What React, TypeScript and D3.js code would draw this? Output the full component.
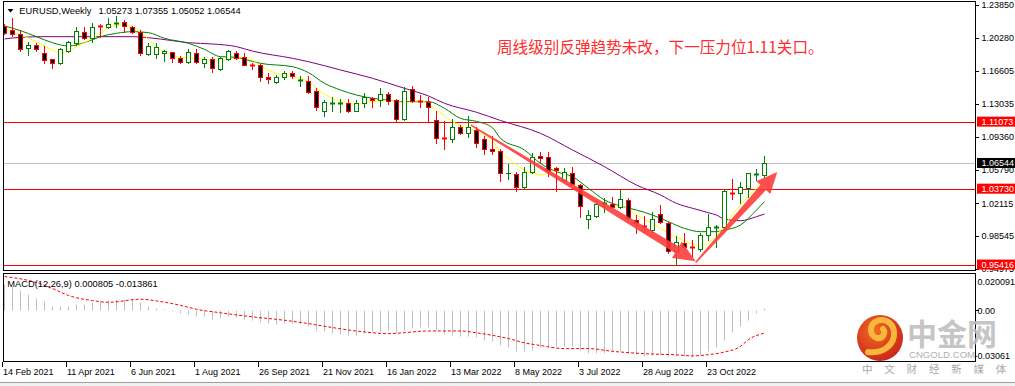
import React from 'react';
import * as d3 from 'd3';

// EURUSD weekly, 14 Feb 2021 .. 11 Dec 2022 (one entry per week)
const opens = [
  1.2155, 1.2111, 1.2064, 1.1910, 1.1943, 1.1863, 1.1790, 1.1746, 1.1885, 1.1965,
  1.2089, 1.2027, 1.2159, 1.2140, 1.2177, 1.2195, 1.2148, 1.2093, 1.1845, 1.1848,
  1.1863, 1.1866, 1.1804, 1.1764, 1.1856, 1.1746, 1.1790, 1.1680, 1.1790, 1.1863,
  1.1812, 1.1728, 1.1728, 1.1600, 1.1538, 1.1593, 1.1644, 1.1552, 1.1556, 1.1447,
  1.1224, 1.1300, 1.1300, 1.1315, 1.1227, 1.1308, 1.1363, 1.1344, 1.1410, 1.1344,
  1.1132, 1.1461, 1.1333, 1.1326, 1.1125, 1.0924, 1.0913, 1.1052, 1.0979, 1.1016,
  1.0913, 1.0804, 1.0789, 1.0541, 1.0534, 1.0395, 1.0552, 1.0731, 1.0716, 1.0596,
  1.0468, 1.0541, 1.0413, 1.0037, 1.0077, 1.0205, 1.0201, 1.0169, 1.0249, 1.0030,
  0.9964, 0.9920, 1.0092, 1.0000, 0.9694, 0.9781, 0.9738, 0.9709, 0.9865, 0.9944,
  0.9950, 1.0329, 1.0322, 1.0377, 1.0519, 1.05273,
];
const highs = [
  1.2177, 1.2239, 1.2111, 1.1983, 1.1972, 1.1936, 1.1795, 1.1918, 1.1994, 1.2148,
  1.2148, 1.2184, 1.2173, 1.2239, 1.2265, 1.2221, 1.2155, 1.2111, 1.1972, 1.1972,
  1.1892, 1.1874, 1.1826, 1.1899, 1.1899, 1.1819, 1.1819, 1.1812, 1.1892, 1.1881,
  1.1856, 1.1753, 1.1739, 1.1636, 1.1618, 1.1666, 1.1666, 1.1607, 1.1607, 1.1472,
  1.1344, 1.1381, 1.1352, 1.1352, 1.1344, 1.1425, 1.1381, 1.1472, 1.1436, 1.1352,
  1.1490, 1.1498, 1.1399, 1.1381, 1.1227, 1.1118, 1.1132, 1.1070, 1.1173, 1.1045,
  1.0950, 1.0950, 1.0804, 1.0643, 1.0559, 1.0614, 1.0760, 1.0778, 1.0778, 1.0614,
  1.0596, 1.0614, 1.0420, 1.0139, 1.0249, 1.0267, 1.0285, 1.0358, 1.0267, 1.0084,
  1.0074, 1.0114, 1.0194, 1.0011, 0.9854, 0.9891, 0.9811, 0.9884, 1.0095, 0.9975,
  1.0358, 1.0475, 1.0449, 1.0548, 1.0588, 1.07355,
];
const lows = [
  1.2068, 1.2045, 1.1885, 1.1837, 1.1885, 1.1753, 1.1699, 1.1735, 1.1874, 1.1947,
  1.2009, 1.1983, 1.2031, 1.2129, 1.2148, 1.2093, 1.2075, 1.1837, 1.1837, 1.1801,
  1.1772, 1.1764, 1.1746, 1.1753, 1.1746, 1.1709, 1.1655, 1.1675, 1.1782, 1.1790,
  1.1725, 1.1680, 1.1556, 1.1527, 1.1527, 1.1571, 1.1582, 1.1501, 1.1425, 1.1235,
  1.1173, 1.1224, 1.1216, 1.1216, 1.1224, 1.1271, 1.1264, 1.1279, 1.1300, 1.1114,
  1.1125, 1.1326, 1.1271, 1.1107, 1.0877, 1.0804, 1.0888, 1.0972, 1.0935, 1.0833,
  1.0753, 1.0753, 1.0461, 1.0475, 1.0347, 1.0377, 1.0541, 1.0669, 1.0512, 1.0351,
  1.0461, 1.0413, 1.0066, 0.9946, 1.0066, 1.0121, 1.0158, 1.0158, 1.0030, 0.9891,
  0.9902, 0.9902, 1.0000, 0.9672, 0.9537, 0.9719, 0.9635, 0.9694, 0.9811, 0.9731,
  0.9935, 1.0256, 1.0212, 1.0285, 1.0468, 1.05052,
];
const closes = [
  1.2075, 1.2064, 1.1903, 1.1943, 1.1899, 1.1782, 1.1753, 1.1899, 1.1980, 1.2097,
  1.2027, 1.2148, 1.2148, 1.2177, 1.2184, 1.2159, 1.2093, 1.1856, 1.1936, 1.1921,
  1.1881, 1.1801, 1.1764, 1.1866, 1.1757, 1.1793, 1.1691, 1.1801, 1.1885, 1.1801,
  1.1728, 1.1717, 1.1593, 1.1571, 1.1600, 1.1644, 1.1607, 1.1563, 1.1436, 1.1271,
  1.1319, 1.1315, 1.1315, 1.1227, 1.1315, 1.1374, 1.1344, 1.1410, 1.1337, 1.1136,
  1.1447, 1.1337, 1.1319, 1.1264, 1.0924, 1.0913, 1.1045, 1.0979, 1.1045, 1.0877,
  1.0804, 1.0789, 1.0548, 1.0548, 1.0395, 1.0552, 1.0724, 1.0713, 1.0570, 1.0577,
  1.0552, 1.0424, 1.0183, 1.0084, 1.0205, 1.0220, 1.0169, 1.0256, 1.0048, 1.0000,
  0.9949, 1.0037, 1.0011, 0.9694, 0.9792, 0.9730, 0.9727, 0.9865, 0.9956, 0.9950,
  1.0347, 1.0315, 1.0387, 1.0541, 1.0530, 1.06544,
];

// date labels every 8 weeks
const dateLabelWeeks = [0, 8, 16, 24, 32, 40, 48, 56, 64, 72, 80, 88];
const dateLabels = [
  '14 Feb 2021', '11 Apr 2021', '6 Jun 2021', '1 Aug 2021', '26 Sep 2021', '21 Nov 2021',
  '16 Jan 2022', '13 Mar 2022', '8 May 2022', '3 Jul 2022', '28 Aug 2022', '23 Oct 2022',
];

const priceTicks = [1.2385, 1.2028, 1.16605, 1.13035, 1.0936, 1.0579, 1.02115, 0.98545, 0.94975];
const levelLines = [1.11073, 1.0373, 0.95416];
const lastPrice = 1.06544;
const titleValues = '1.05273 1.07355 1.05052 1.06544';

// moving averages (week index -> value)
const fastMaWeeks = [0, 2, 4, 6, 7, 9, 11, 12, 13, 15, 16, 18, 19, 20, 22, 25, 26, 28, 30, 31, 32, 34, 36, 38, 39, 41, 42, 44, 46, 48, 50, 52, 54, 56, 59, 61, 62, 63, 65, 67, 69, 71, 73, 75, 77, 79, 81, 83, 85, 87, 89, 90, 92, 94, 95];
const fastMa = [1.2120, 1.2056, 1.1983, 1.1892, 1.1863, 1.1929, 1.2020, 1.2075, 1.2140, 1.2166, 1.2140, 1.2009, 1.1921, 1.1874, 1.1812, 1.1790, 1.1775, 1.1790, 1.1812, 1.1782, 1.1717, 1.1636, 1.1600, 1.1545, 1.1472, 1.1360, 1.1326, 1.1300, 1.1326, 1.1344, 1.1315, 1.1337, 1.1235, 1.1107, 1.0997, 1.0900, 1.0760, 1.0700, 1.0577, 1.0523, 1.0570, 1.0468, 1.0285, 1.0176, 1.0183, 1.0084, 0.9993, 0.9884, 0.9800, 0.9750, 0.9860, 0.9975, 1.0194, 1.0377, 1.0450];
const midMaWeeks = [0, 2, 4, 6, 8, 10, 12, 14, 16, 18, 20, 23, 25, 27, 29, 30, 32, 36, 38, 40, 42, 44, 46, 48, 50, 53, 55, 57, 59, 61, 62, 65, 67, 69, 71, 73, 75, 77, 79, 81, 83, 85, 87, 89, 90, 92, 94, 95];
const midMa = [1.2155, 1.2104, 1.2038, 1.1972, 1.1936, 1.1972, 1.2038, 1.2075, 1.2093, 1.2082, 1.2020, 1.1965, 1.1899, 1.1819, 1.1812, 1.1790, 1.1746, 1.1709, 1.1644, 1.1527, 1.1454, 1.1399, 1.1363, 1.1344, 1.1326, 1.1326, 1.1253, 1.1143, 1.1110, 1.1040, 1.0924, 1.0797, 1.0650, 1.0559, 1.0504, 1.0377, 1.0249, 1.0183, 1.0139, 1.0084, 1.0011, 0.9938, 0.9902, 0.9902, 0.9920, 0.9975, 1.0139, 1.0231];
const slowMaWeeks = [0, 2, 5, 10, 16, 18, 21, 23, 26, 29, 31, 36, 38, 42, 46, 50, 53, 55, 59, 62, 67, 71, 75, 79, 82, 84, 86, 88, 89, 90, 92, 94, 95];
const slowMa = [1.2013, 1.2031, 1.2038, 1.2038, 1.2038, 1.2027, 1.1994, 1.1972, 1.1958, 1.1929, 1.1880, 1.1801, 1.1764, 1.1673, 1.1582, 1.1472, 1.1388, 1.1308, 1.1210, 1.1120, 1.0979, 1.0797, 1.0614, 1.0413, 1.0304, 1.0212, 1.0158, 1.0110, 1.0084, 1.0040, 1.0022, 1.0066, 1.0095];

// MACD(12,26,9) main (histogram) and signal
const macdMain = [
  0.0148, 0.0137, 0.0114, 0.0094, 0.0069, 0.0049, 0.0024, 0.0019, 0.0024, 0.0035,
  0.0035, 0.0045, 0.0049, 0.0059, 0.0065, 0.0065, 0.0063, 0.0043, 0.0024, 0.0010,
  0.0004, -0.0010, -0.0019, -0.0024, -0.0035, -0.0040, -0.0053, -0.0049, -0.0040, -0.0045,
  -0.0055, -0.0063, -0.0073, -0.0078, -0.0083, -0.0078, -0.0078, -0.0083, -0.0099, -0.0118,
  -0.0128, -0.0137, -0.0142, -0.0148, -0.0148, -0.0137, -0.0135, -0.0128, -0.0122, -0.0137,
  -0.0118, -0.0110, -0.0104, -0.0104, -0.0122, -0.0143, -0.0152, -0.0158, -0.0158, -0.0163,
  -0.0177, -0.0187, -0.0207, -0.0222, -0.0246, -0.0246, -0.0236, -0.0222, -0.0222, -0.0217,
  -0.0217, -0.0217, -0.0240, -0.0255, -0.0255, -0.0255, -0.0250, -0.0246, -0.0255, -0.0261,
  -0.0271, -0.0266, -0.0260, -0.0271, -0.0276, -0.0276, -0.0279, -0.0266, -0.0246, -0.0222,
  -0.0177, -0.0134, -0.0099, -0.0059, -0.0019, 0.000805,
];
const signalWeeks = [0, 4, 6, 8, 11, 13, 17, 19, 22, 24, 27, 31, 35, 38, 41, 45, 48, 50, 53, 57, 59, 61, 63, 65, 67, 70, 73, 76, 80, 84, 86, 88, 90, 92, 93, 95];
const signalValues = [0.0195, 0.0159, 0.0124, 0.0083, 0.0053, 0.0043, 0.0061, 0.0051, 0.0025, 0.0002, -0.0019, -0.0043, -0.0063, -0.0083, -0.0106, -0.0132, -0.0142, -0.0136, -0.0126, -0.0126, -0.0137, -0.0152, -0.0171, -0.0196, -0.0212, -0.0230, -0.0230, -0.0246, -0.0260, -0.0267, -0.0273, -0.0266, -0.0250, -0.0217, -0.0177, -0.013861];
const macdMax = 0.020091;
const macdMin = -0.03061;

// hand-drawn arrows: [week, price] start -> tip
const arrowDown = [[58.3, 1.107], [86.4, 0.9578]];
const arrowUp = [[86.4, 0.9565], [96.6, 1.0556]];

const note = '周线级别反弹趋势未改，下一压力位1.11关口。';

const FONT = '"Liberation Sans", Arial, sans-serif';
const CJK = '"Noto Sans CJK SC", "Noto Sans", sans-serif';
const BULL = '#008000';
const BEAR = '#ff0000';

function arrowPath(p0, p1, w0, w1, headLen, headW) {
  const [x0, y0] = p0;
  const [x1, y1] = p1;
  const L = Math.hypot(x1 - x0, y1 - y0);
  const ux = (x1 - x0) / L, uy = (y1 - y0) / L;
  const nx = -uy, ny = ux;
  const bx = x1 - ux * headLen, by = y1 - uy * headLen;
  const pts = [
    [x0 + nx * w0 / 2, y0 + ny * w0 / 2],
    [bx + nx * w1 / 2, by + ny * w1 / 2],
    [bx + nx * headW / 2, by + ny * headW / 2],
    [x1, y1],
    [bx - nx * headW / 2, by - ny * headW / 2],
    [bx - nx * w1 / 2, by - ny * w1 / 2],
    [x0 - nx * w0 / 2, y0 - ny * w0 / 2],
  ];
  return 'M' + pts.map(p => p[0].toFixed(1) + ',' + p[1].toFixed(1)).join('L') + 'Z';
}

export default function App() {
  const W = 1015, H = 386;
  const x = d3.scaleLinear().domain([0, 95]).range([4.5, 764.5]);
  const y = d3.scaleLinear().domain([0.98545, 1.2385]).range([236, 5]);
  const ym = d3.scaleLinear().domain([macdMin, macdMax]).range([361.5, 275.5]);

  const maLine = d3.line<number>()
    .x(d => x(d))
    .curve(d3.curveMonotoneX);
  const line = (weeks: number[], vals: number[]) =>
    maLine.y((_, i) => y(vals[i]))(weeks);

  const signalPath = d3.line<number>()
    .x(d => x(d))
    .y((_, i) => ym(signalValues[i]))
    .curve(d3.curveMonotoneX)(signalWeeks);

  const zeroY = Math.round(ym(0)) + 0.5;
  const toPx = (p) => [x(p[0]), y(p[1])];

  return (
    <svg width={W} height={H} style={{ position: 'absolute', left: 0, top: 0, background: '#fff' }}
      fontFamily={FONT}>
      <defs>
        <clipPath id="mainClip"><rect x={4} y={2} width={971} height={268} /></clipPath>
        <clipPath id="macdClip"><rect x={4} y={274} width={971} height={87} /></clipPath>
        <radialGradient id="logoGrad" cx="40%" cy="35%" r="70%">
          <stop offset="0%" stopColor="#f26a22" />
          <stop offset="100%" stopColor="#c9241a" />
        </radialGradient>
      </defs>
      <rect x={0} y={0} width={W} height={H} fill="#fff" />

      {/* level lines */}
      <line x1={3.5} x2={975.5} y1={Math.round(y(lastPrice)) + 0.5} y2={Math.round(y(lastPrice)) + 0.5} stroke="#c0c0c0" />
      {levelLines.map(v => (
        <line key={v} x1={3.5} x2={975.5} y1={Math.round(y(v)) + 0.5} y2={Math.round(y(v)) + 0.5} stroke="#ff0000" />
      ))}

      <g clipPath="url(#mainClip)">
        {/* moving averages */}
        <path d={line(slowMaWeeks, slowMa)} fill="none" stroke="#800080" strokeWidth={1} />
        <path d={line(midMaWeeks, midMa)} fill="none" stroke="#008000" strokeWidth={1} />
        <path d={line(fastMaWeeks, fastMa)} fill="none" stroke="#ffff00" strokeWidth={1} />

        {/* candles */}
        {opens.map((o, i) => {
          const c = closes[i];
          const up = c >= o;
          const col = up ? BULL : BEAR;
          const cx = x(i);
          const top = Math.round(y(Math.max(o, c)));
          const bot = Math.round(y(Math.min(o, c)));
          return (
            <g key={i}>
              <line x1={cx} x2={cx} y1={Math.round(y(highs[i]))} y2={Math.round(y(lows[i])) + 1} stroke={col} />
              {bot - top < 2 ? (
                <line x1={cx - 2.5} x2={cx + 2.5} y1={top + 0.5} y2={top + 0.5} stroke={col} strokeWidth={bot - top + 1} />
              ) : (
                <rect x={cx - 2} y={top + 0.5} width={4} height={bot - top} fill={up ? '#fff' : '#000'} stroke={col} />
              )}
            </g>
          );
        })}

        {/* arrows */}
        <path d={arrowPath(toPx(arrowDown[0]), toPx(arrowDown[1]), 1.5, 7.5, 22, 19)} fill="#ff3c3c" fillOpacity={0.9} />
        <path d={arrowPath(toPx(arrowUp[0]), toPx(arrowUp[1]), 1.5, 7.5, 21, 19)} fill="#ff3c3c" fillOpacity={0.9} />
      </g>

      {/* title */}
      <polygon points="7.5,9 13.5,9 10.5,12.5" fill="#000" />
      <text x={19.3} y={14} fontSize={9.3} fill="#000">EURUSD,Weekly</text>
      <text x={98.5} y={14} fontSize={9.3} fill="#000" style={{ whiteSpace: 'pre' }}>{titleValues}</text>

      {/* annotation */}
      <text x={497} y={53} fontSize={15.6} fill="#ff2d2d" fontFamily={CJK}>{note}</text>

      {/* price axis */}
      {priceTicks.map(v => (
        <g key={v}>
          <line x1={976} x2={979} y1={Math.round(y(v)) + 0.5} y2={Math.round(y(v)) + 0.5} stroke="#000" />
          <text x={981.5} y={y(v)} dy="0.35em" fontSize={9} fill="#000">{v.toFixed(5)}</text>
        </g>
      ))}
      {levelLines.map(v => (
        <g key={'lab' + v}>
          <rect x={977} y={y(v) - 5} width={38} height={10} fill="#ff0000" />
          <text x={981.5} y={y(v)} dy="0.35em" fontSize={9} fill="#fff">{v.toFixed(5)}</text>
        </g>
      ))}
      <rect x={977} y={y(lastPrice) - 5} width={38} height={10} fill="#000" />
      <text x={981.5} y={y(lastPrice)} dy="0.35em" fontSize={9} fill="#fff">{lastPrice.toFixed(5)}</text>

      {/* panel frames */}
      <rect x={0} y={270.5} width={976} height={3} fill="#fff" />
      <rect x={3.5} y={1.5} width={972} height={269} fill="none" stroke="#000" />
      <rect x={3.5} y={273.5} width={972} height={88} fill="none" stroke="#000" />

      {/* MACD */}
      <g clipPath="url(#macdClip)">
        {macdMain.map((v, i) => (
          <line key={i} x1={x(i)} x2={x(i)} y1={zeroY} y2={Math.round(ym(v)) + 0.5} stroke="#c0c0c0" />
        ))}
        <path d={signalPath} fill="none" stroke="#ff0000" strokeWidth={1} strokeDasharray="3,2" />
      </g>
      <text x={7.3} y={287} fontSize={9.3} fill="#000" style={{ whiteSpace: 'pre' }}>
        {`MACD(12,26,9) ${macdMain[macdMain.length - 1].toFixed(6)} ${signalValues[signalValues.length - 1].toFixed(6)}`}
      </text>
      <line x1={976} x2={979} y1={zeroY} y2={zeroY} stroke="#000" />
      <text x={977.5} y={282} dy="0.35em" fontSize={9} fill="#000">{macdMax.toFixed(6)}</text>
      <text x={977.5} y={zeroY} dy="0.35em" fontSize={9} fill="#000">0.00</text>
      <text x={974.5} y={356} dy="0.35em" fontSize={9} fill="#000">{macdMin.toFixed(5)}</text>

      {/* time axis */}
      {dateLabelWeeks.map((w, i) => (
        <g key={w}>
          <line x1={x(w) - 2} x2={x(w) - 2} y1={362} y2={367} stroke="#000" />
          <text x={x(w) - 1.5} y={374.5} fontSize={9} fill="#000">{dateLabels[i]}</text>
        </g>
      ))}
      <rect x={0} y={382} width={W} height={4} fill="#f0f0f0" />
      <line x1={0} x2={W} y1={382.5} y2={382.5} stroke="#a0a0a0" />

      {/* watermark logo */}
      <g>
        <circle cx={880} cy={338} r={23} fill="url(#logoGrad)" />
        <path d="M868,352 C884,354 895,344 894,332 C893,322 884,318 877,321 C869,324 869,336 877,338 C883,339 886,333 883,329"
          fill="none" stroke="#f6b73a" strokeWidth={6} strokeLinecap="round" />
        <text x={907} y={345} fontSize={30} fontWeight="bold" fill="#bdbdbd" fillOpacity={0.9} fontFamily={CJK}>中金网</text>
        <text x={909} y={358} fontSize={9.6} fill="#b0b0b0">CNGOLD.COM</text>
        {'中文财经新媒体'.split('').map((ch, i) => (
          <text key={i} x={862 + i * 22.3} y={372.5} fontSize={10.5} fill="#a8a8a8" fontFamily={CJK}>{ch}</text>
        ))}
      </g>
    </svg>
  );
}
